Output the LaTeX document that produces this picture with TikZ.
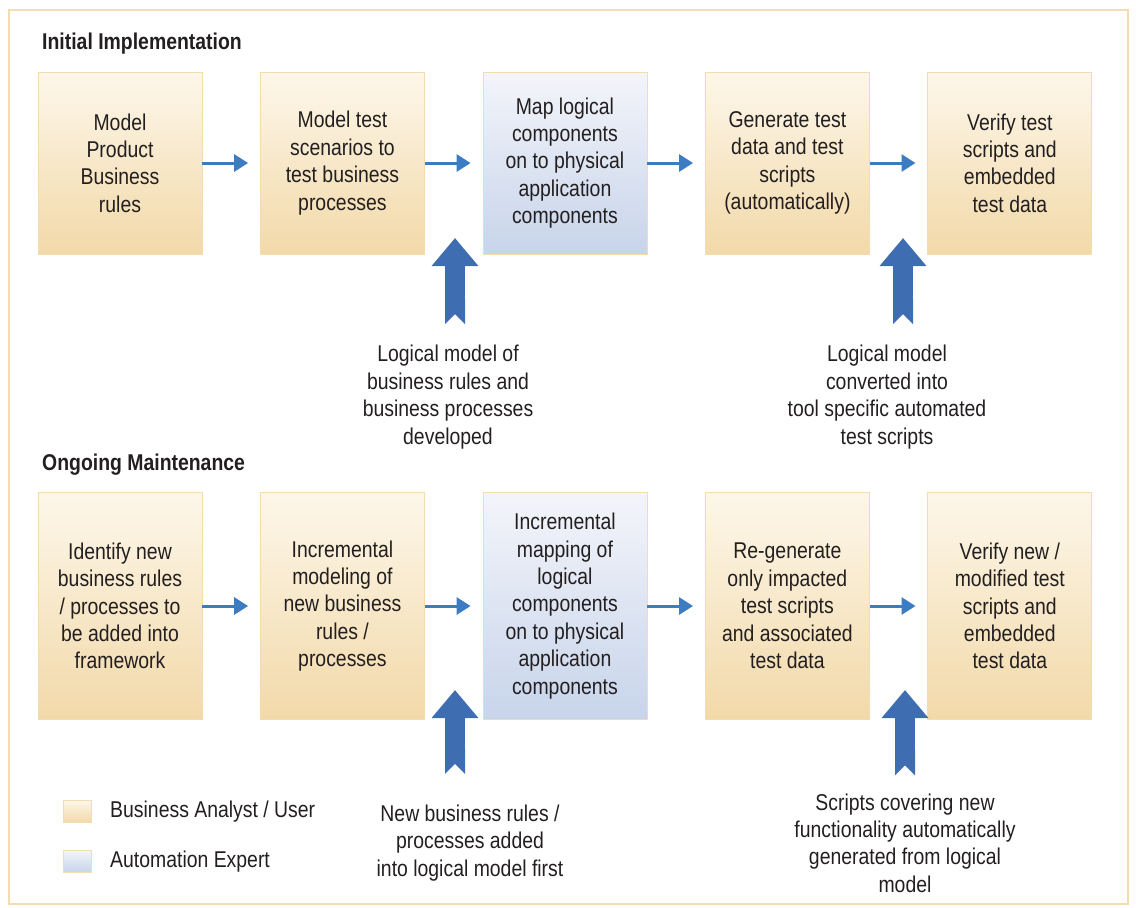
\documentclass[tikz,border=0pt]{standalone}
\usepackage{fontspec}
\setmainfont{Liberation Sans}[FakeStretch=0.85]
\usetikzlibrary{arrows.meta}

\definecolor{tanlight}{HTML}{FDF7EA}
\definecolor{tandark}{HTML}{F2D9A9}
\definecolor{tanedge}{HTML}{F3DDB0}
\definecolor{bluelight}{HTML}{F4F5FA}
\definecolor{bluedark}{HTML}{C7D4EA}
\definecolor{flowblue}{HTML}{3B7CC3}
\definecolor{feedblue}{HTML}{3F6DB2}
\definecolor{inkgray}{HTML}{231F20}

\begin{document}
\begin{tikzpicture}
  [x=0.02cm, y=-0.02cm, node distance=4.45cm, text=inkgray,
   font=\fontsize{13}{15.6}\selectfont,
   user/.style={draw=tanedge, top color=tanlight, bottom color=tandark,
     minimum width=3.28cm, align=center},
   expert/.style={user, draw=tanedge, top color=bluelight, bottom color=bluedark},
   short/.style={minimum height=3.64cm},
   tall/.style={minimum height=4.54cm},
   key/.style={minimum width=0.56cm, minimum height=0.44cm, inner sep=0pt},
   note/.style={align=center},
   flow/.style={flowblue, line width=0.06cm, shorten >=0.24cm,
     -{Triangle[length=0.28cm, width=0.34cm]}},
   feed/.style={feedblue, line width=0.4cm,
     {Triangle Cap[reversed, length=0.2cm]}-{Triangle[length=0.56cm, width=0.9cm]}}]
	\useasboundingbox (0,0) rectangle (1136,907);
	\draw [tanedge, line width=0.04cm] (9,10) rectangle (1128,904);

	% initial implementation
	\node [anchor=west, font=\bfseries\fontsize{13}{15.6}\selectfont, name=init] at (36,44) {Initial Implementation};
	\node [user, short, name=model] at (120,163) {Model\\Product\\Business\\rules};
	\node [user, short, name=scen, right of=model] {Model test\\scenarios to\\test business\\processes};
	\node [expert, short, name=map, right of=scen] {Map logical\\components\\on to physical\\application\\components};
	\node [user, short, name=gen, right of=map] {Generate test\\data and test\\scripts\\(automatically)};
	\node [user, short, name=verify, right of=gen] {Verify test\\scripts and\\embedded\\test data};

	\path [flow] (model) edge (scen)
				(scen) edge (map)
				(map) edge (gen)
				(gen) edge (verify);

	\node [note, name=logic] at (448,397) {Logical model of\\business rules and\\business processes\\developed};
	\node [note, name=convert] at (887,397) {Logical model\\converted into\\tool specific automated\\test scripts};
	\coordinate (logictip) at (455,238);
	\coordinate (converttip) at (903,238);
	\draw [feed, shorten <=0.3cm] (logic.north -| logictip) -- (logictip);
	\draw [feed, shorten <=0.3cm] (convert.north -| converttip) -- (converttip);

	% ongoing maintenance
	\node [anchor=west, font=\bfseries\fontsize{13}{15.6}\selectfont, name=ongo] at (36,465) {Ongoing Maintenance};
	\node [user, tall, name=ident] at (120,606) {Identify new\\business rules\\/ processes to\\be added into\\framework};
	\node [user, tall, name=incr, right of=ident] {Incremental\\modeling of\\new business\\rules /\\processes};
	\node [expert, tall, name=incmap, right of=incr] {Incremental\\mapping of\\logical\\components\\on to physical\\application\\components};
	\node [user, tall, name=regen, right of=incmap] {Re-generate\\only impacted\\test scripts\\and associated\\test data};
	\node [user, tall, name=vernew, right of=regen] {Verify new /\\modified test\\scripts and\\embedded\\test data};

	\path [flow] (ident) edge (incr)
				(incr) edge (incmap)
				(incmap) edge (regen)
				(regen) edge (vernew);

	\node [note, name=added] at (470,843) {New business rules /\\processes added\\into logical model first};
	\node [note, name=covering] at (905,843) {Scripts covering new\\functionality automatically\\generated from logical\\model};
	\coordinate (addedtip) at (455,690);
	\coordinate (coveringtip) at (905,690);
	\draw [feed, shorten <=0.5cm] (added.north -| addedtip) -- (addedtip);
	\draw [feed, shorten <=0.24cm] (covering.north -| coveringtip) -- (coveringtip);

	% legend
	\node [user, key, name=keyuser] at (77,811) {};
	\node [expert, key, name=keyexpert] at (77,861) {};
	\node [anchor=west, name=analyst] at (104,812) {Business Analyst / User};
	\node [anchor=west, name=automation] at (104,862) {Automation Expert};
\end{tikzpicture}
\end{document}
